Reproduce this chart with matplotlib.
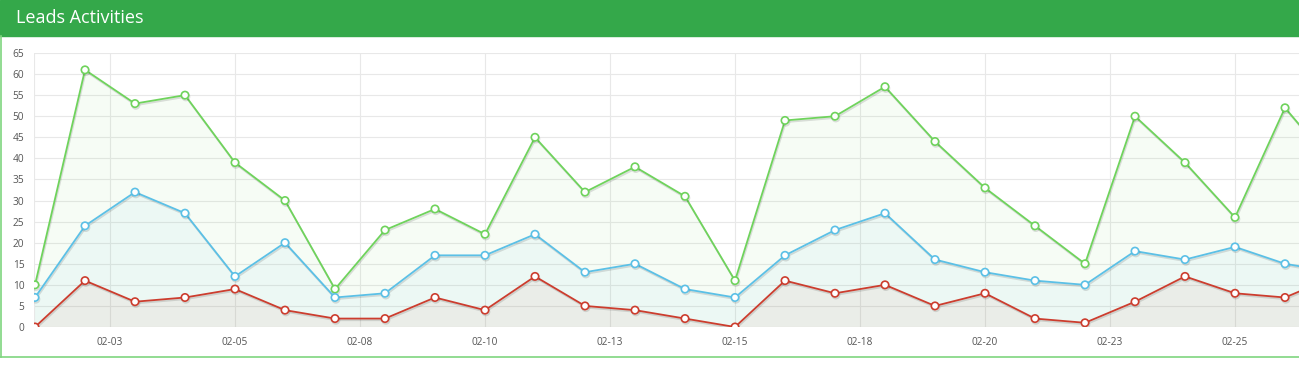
import matplotlib.pyplot as plt
import matplotlib.patheffects as pe
from matplotlib.lines import Line2D
from matplotlib.patches import Rectangle

plt.rcParams['font.family'] = ['Open Sans', 'DejaVu Sans']

# values per point (the last one sits just past the right edge)
green = [10, 61, 53, 55, 39, 30, 9, 23, 28, 22, 45, 32, 38, 31, 11,
         49, 50, 57, 44, 33, 24, 15, 50, 39, 26, 52, 38]
blue = [7, 24, 32, 27, 12, 20, 7, 8, 17, 17, 22, 13, 15, 9, 7,
        17, 23, 27, 16, 13, 11, 10, 18, 16, 19, 15, 13]
red = [0, 11, 6, 7, 9, 4, 2, 2, 7, 4, 12, 5, 4, 2, 0,
       11, 8, 10, 5, 8, 2, 1, 6, 12, 8, 7, 12]

tick_pos = [1.5, 4, 6.5, 9, 11.5, 14, 16.5, 19, 21.5, 24]
tick_labels = ['02-03', '02-05', '02-08', '02-10', '02-13',
               '02-15', '02-18', '02-20', '02-23', '02-25']

fig = plt.figure(figsize=(12.99, 3.69), dpi=100)

# header bar
fig.patches.append(Rectangle((0, 1 - 36 / 369), 1, 36 / 369, transform=fig.transFigure,
                             color='#34a84a', zorder=0))
fig.text(16 / 1299, 1 - 18 / 369, 'Leads Activities', color='white', fontsize=13,
         va='center', ha='left')

# panel border
border = '#7fd67f'
fig.lines.append(Line2D([0.5 / 1299, 0.5 / 1299], [1 - 357 / 369, 1 - 36 / 369],
                        transform=fig.transFigure, color=border, lw=1.2))
fig.lines.append(Line2D([0, 1], [1 - 357 / 369, 1 - 357 / 369],
                        transform=fig.transFigure, color=border, lw=1.2))

ax = fig.add_axes([34 / 1299, 1 - 327 / 369, 1 - 34 / 1299, 274 / 369])
x = list(range(len(green)))

series = [(green, '#6fd35c'), (blue, '#5bc0e6'), (red, '#cc3d2e')]
for vals, col in series:
    ax.fill_between(x, vals, 0, color=col, alpha=0.06, lw=0, zorder=1)
for vals, col in series:
    ax.plot(x, vals, color=col, lw=1.3, marker='o', markersize=5.3,
            markerfacecolor='white', markeredgecolor=col, markeredgewidth=1.2,
            zorder=3,
            path_effects=[pe.SimpleLineShadow(offset=(0.6, -1.2), shadow_color='black',
                                              alpha=0.12), pe.Normal()])

ax.set_xlim(-0.02, (1299 - 35) / 50)
ax.set_ylim(0, 65)
ax.set_yticks(range(0, 70, 5))
ax.set_xticks(tick_pos)
ax.set_xticklabels(tick_labels)
ax.grid(True, color='#e8e8e8', lw=0.8, zorder=0)
ax.axvline(-0.02, color='#e8e8e8', lw=0.8, zorder=0)
ax.set_axisbelow(True)
for s in ax.spines.values():
    s.set_visible(False)
ax.tick_params(length=0, labelsize=7.3, colors='#555555')
ax.tick_params(axis='y', pad=7)
ax.tick_params(axis='x', pad=7)

fig.savefig('out.png', dpi=100)
